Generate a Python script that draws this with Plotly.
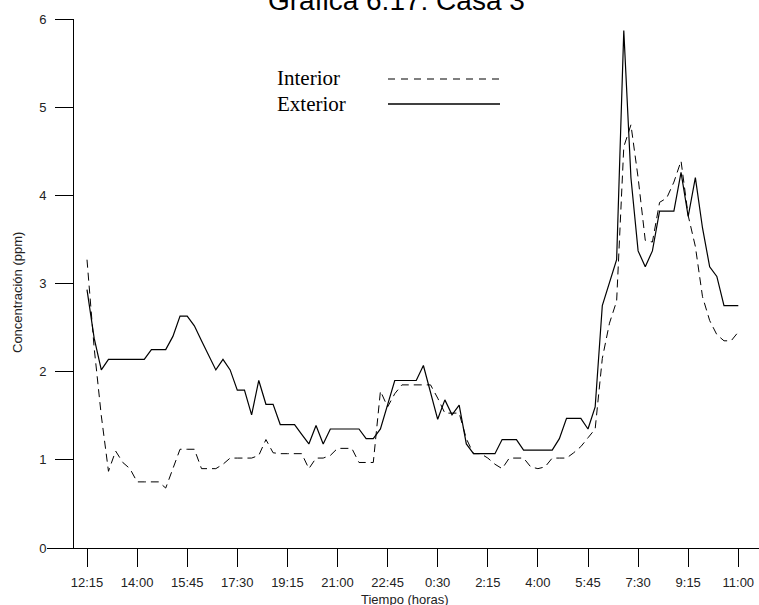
import plotly.graph_objects as go

# ---- data (15-minute readings, 12:15 -> 11:00 next day) ----
tick_labels = ["12:15", "14:00", "15:45", "17:30", "19:15", "21:00", "22:45",
               "0:30", "2:15", "4:00", "5:45", "7:30", "9:15", "11:00"]

interior = [3.27, 2.27, 1.50, 0.87, 1.10, 0.97, 0.90, 0.75, 0.75, 0.75,
            0.75, 0.68, 0.90, 1.12, 1.12, 1.12, 0.90, 0.90, 0.90, 0.95,
            1.02, 1.02, 1.02, 1.02, 1.05, 1.23, 1.08, 1.07, 1.07, 1.07,
            1.07, 0.90, 1.02, 1.02, 1.05, 1.13, 1.13, 1.13, 0.97, 0.97,
            0.97, 1.78, 1.60, 1.75, 1.85, 1.85, 1.85, 1.85, 1.85, 1.70,
            1.53, 1.53, 1.53, 1.24, 1.07, 1.07, 1.02, 0.95, 0.90, 1.02,
            1.02, 1.02, 0.92, 0.90, 0.92, 1.02, 1.02, 1.02, 1.08, 1.15,
            1.25, 1.35, 2.15, 2.55, 2.80, 4.55, 4.80, 4.20, 3.49, 3.47,
            3.92, 3.97, 4.15, 4.39, 3.77, 3.42, 2.85, 2.58, 2.42, 2.35,
            2.35, 2.45]

exterior = [2.93, 2.38, 2.02, 2.14, 2.14, 2.14, 2.14, 2.14, 2.14, 2.25,
            2.25, 2.25, 2.40, 2.63, 2.63, 2.52, 2.35, 2.18, 2.02, 2.14,
            2.02, 1.79, 1.79, 1.51, 1.90, 1.63, 1.63, 1.40, 1.40, 1.40,
            1.29, 1.18, 1.39, 1.18, 1.35, 1.35, 1.35, 1.35, 1.35, 1.24,
            1.24, 1.35, 1.62, 1.90, 1.90, 1.90, 1.90, 2.07, 1.77, 1.46,
            1.68, 1.51, 1.62, 1.18, 1.07, 1.07, 1.07, 1.07, 1.23, 1.23,
            1.23, 1.11, 1.11, 1.11, 1.11, 1.11, 1.24, 1.47, 1.47, 1.47,
            1.35, 1.60, 2.75, 3.00, 3.27, 5.87, 4.20, 3.37, 3.19, 3.37,
            3.82, 3.82, 3.82, 4.26, 3.76, 4.20, 3.63, 3.19, 3.08, 2.75,
            2.75, 2.75]

steps = list(range(len(exterior)))
tick_pos = steps[::7]

title_text = "Gráfica 6.17: Casa 3"
x_title = "Tiempo (horas)"
y_title = "Concentración (ppm)"

fig = go.Figure()
fig.add_trace(go.Scatter(x=steps, y=interior, mode="lines", name="Interior",
                         line=dict(color="black", width=1, dash="8px,5px")))
fig.add_trace(go.Scatter(x=steps, y=exterior, mode="lines", name="Exterior",
                         line=dict(color="black", width=1.2)))

W, H = 759, 605
L, R, T, B = 47, 0, 19, 57
pw = W - L - R
ph = H - T - B

def px_x(p):
    return (p - L) / pw

def px_y(p):
    return (H - B - p) / ph

ppi = 50.1 / 7.0  # pixels per step
x0 = (L - 87) / ppi
x1 = (W - 87) / ppi

axis_font = dict(family="Arial, Liberation Sans, sans-serif", size=13, color="#222")

fig.update_layout(
    width=W, height=H,
    margin=dict(l=L, r=R, t=T, b=B, pad=0),
    paper_bgcolor="white", plot_bgcolor="white",
    showlegend=False,
    xaxis=dict(range=[x0, x1], showgrid=False, zeroline=False,
               showline=True, linecolor="black", linewidth=1,
               ticks="outside", ticklen=18, tickcolor="black", tickwidth=1,
               tickvals=tick_pos, ticktext=tick_labels,
               tickfont=axis_font, ticklabelstandoff=4),
    yaxis=dict(range=[0, 6], showgrid=False, zeroline=False,
               anchor="free", position=px_x(73),
               showline=True, linecolor="black", linewidth=1,
               ticks="outside", ticklen=18, tickcolor="black", tickwidth=1,
               tickvals=[0, 1, 2, 3, 4, 5, 6],
               tickfont=axis_font, ticklabelstandoff=6),
)

annots = [
    dict(text=title_text, x=px_x(396), y=px_y(18), xref="paper", yref="paper",
         xanchor="center", yanchor="bottom", showarrow=False,
         font=dict(family="Arial, Liberation Sans, sans-serif", size=28, color="black")),
    dict(text=x_title, x=px_x(405), y=px_y(599), xref="paper", yref="paper",
         xanchor="center", yanchor="middle", showarrow=False, font=axis_font),
    dict(text=y_title, x=px_x(17), y=px_y(293), xref="paper", yref="paper",
         xanchor="center", yanchor="middle", showarrow=False, textangle=-90,
         font=axis_font),
    dict(text="Interior", x=px_x(275), y=px_y(78), xref="paper", yref="paper",
         xanchor="left", yanchor="middle", showarrow=False,
         font=dict(family="Liberation Serif, Times New Roman, serif", size=21, color="black")),
    dict(text="Exterior", x=px_x(275), y=px_y(104), xref="paper", yref="paper",
         xanchor="left", yanchor="middle", showarrow=False,
         font=dict(family="Liberation Serif, Times New Roman, serif", size=21, color="black")),
]
fig.update_layout(annotations=annots)

fig.add_shape(type="line", xref="paper", yref="paper",
              x0=px_x(388), x1=px_x(500), y0=px_y(79), y1=px_y(79),
              line=dict(color="black", width=1.2, dash="7px,6px"))
fig.add_shape(type="line", xref="paper", yref="paper",
              x0=px_x(388), x1=px_x(500), y0=px_y(104), y1=px_y(104),
              line=dict(color="black", width=1.5))

fig.write_html("out.html")
